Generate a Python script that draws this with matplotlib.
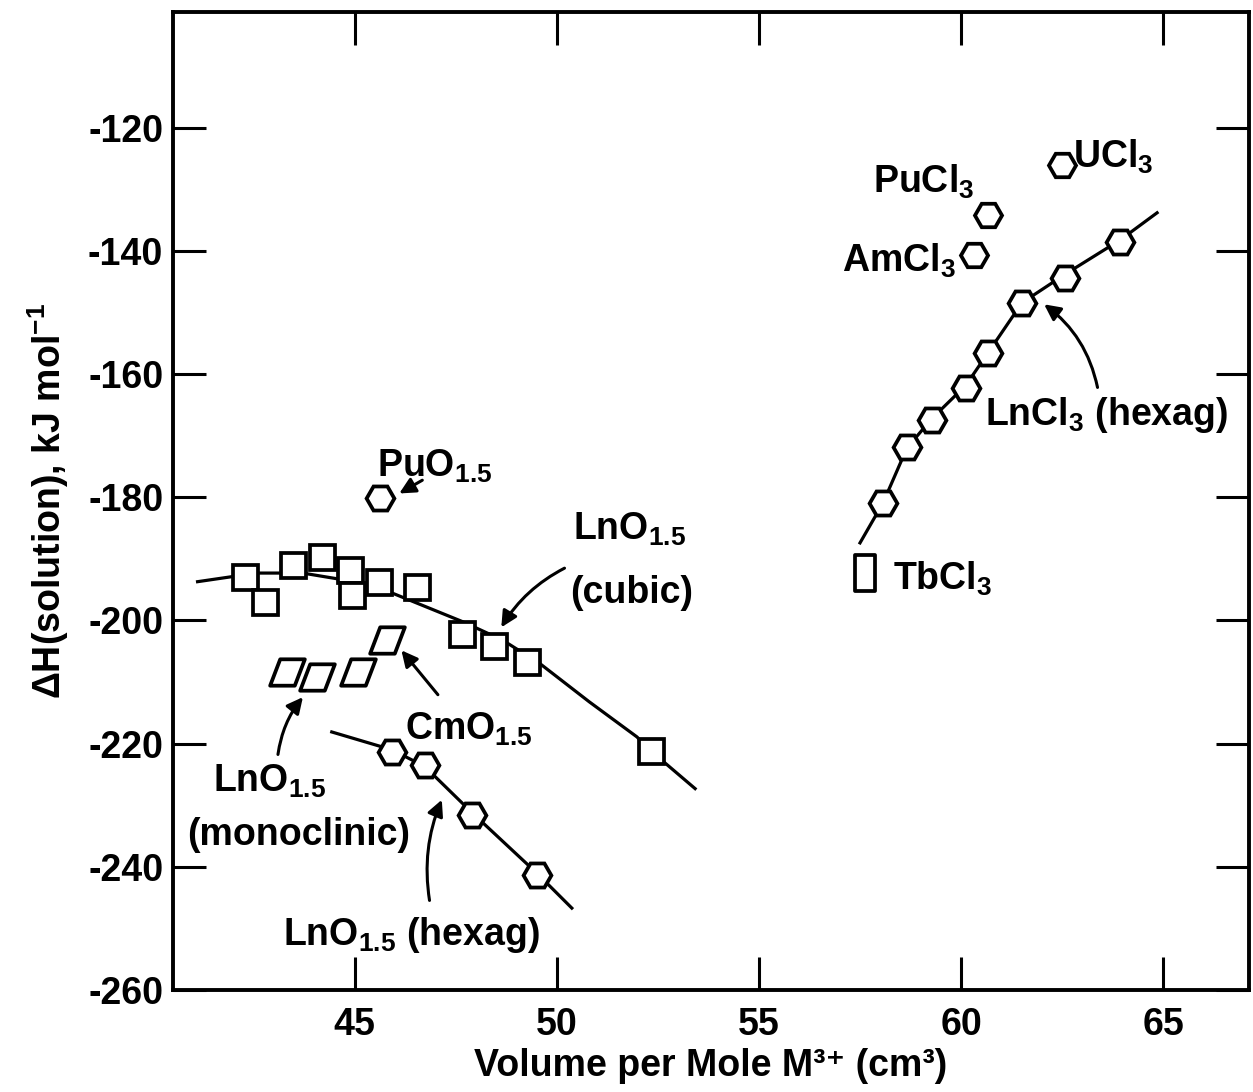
import matplotlib
matplotlib.use('Agg')
import matplotlib.pyplot as plt
from matplotlib.path import Path

plt.rcParams['font.family'] = ['Liberation Sans', 'DejaVu Sans']
plt.rcParams['font.weight'] = 'bold'
plt.rcParams['axes.labelweight'] = 'bold'
plt.rcParams['mathtext.fontset'] = 'custom'
plt.rcParams['mathtext.rm'] = 'Liberation Sans:bold'
plt.rcParams['mathtext.it'] = 'Liberation Sans:bold'
plt.rcParams['mathtext.bf'] = 'Liberation Sans:bold'

# LnO1.5 cubic (squares)
cubic_x = [42.28, 42.77, 43.47, 44.18, 44.88, 44.93, 45.59, 46.53, 47.65, 48.44, 49.26, 52.33]
cubic_y = [-192.9, -197.0, -191.0, -189.7, -191.8, -195.8, -193.7, -194.5, -202.2, -204.1, -206.7, -221.2]
cubic_fit_x = [41.11, 42.57, 43.71, 44.63, 45.87, 47.67, 48.66, 49.58, 50.80, 51.98, 52.33, 53.42]
cubic_fit_y = [-193.7, -192.3, -192.3, -193.3, -195.4, -200.2, -203.2, -207.0, -213.2, -218.9, -221.2, -227.3]

# monoclinic (parallelograms), last one is CmO1.5
mono_x = [43.32, 44.06, 45.07, 45.79]
mono_y = [-208.4, -209.2, -208.4, -203.2]

# LnO1.5 hexagonal
hexo_x = [45.92, 46.73, 47.90, 49.50]
hexo_y = [-221.3, -223.5, -231.6, -241.3]
hexo_fit_x = [44.43, 45.92, 46.73, 47.90, 49.50, 50.37]
hexo_fit_y = [-218.1, -221.0, -223.7, -231.2, -241.0, -246.7]

# PuO1.5
puo_x = [45.62]
puo_y = [-180.1]

# LnCl3 hexagonal
lncl_x = [58.07, 58.66, 59.28, 60.12, 60.67, 61.51, 62.57, 63.94]
lncl_y = [-180.9, -171.8, -167.4, -162.2, -156.5, -148.4, -144.4, -138.5]
lncl_fit_x = [57.50, 58.07, 58.66, 59.28, 60.12, 60.67, 61.51, 62.57, 63.94, 64.85]
lncl_fit_y = [-187.4, -180.9, -172.0, -167.2, -161.8, -156.5, -148.4, -143.8, -138.2, -133.8]

# actinide chlorides: UCl3, PuCl3, AmCl3
ancl_x = [62.50, 60.67, 60.32]
ancl_y = [-126.0, -134.1, -140.6]

# TbCl3
tb_x = [57.62]
tb_y = [-192.3]

para = Path([(-0.5, -0.38), (0.21, -0.38), (0.5, 0.38), (-0.21, 0.38), (-0.5, -0.38)],
            [Path.MOVETO, Path.LINETO, Path.LINETO, Path.LINETO, Path.CLOSEPOLY])
tall = Path([(-0.27, -0.5), (0.27, -0.5), (0.27, 0.5), (-0.27, 0.5), (-0.27, -0.5)],
            [Path.MOVETO, Path.LINETO, Path.LINETO, Path.LINETO, Path.CLOSEPOLY])

fig = plt.figure(figsize=(12.53, 10.92), dpi=100)
ax = fig.add_axes([0.138, 0.0934, 0.859, 0.8956])

lw = 2.3
mk = dict(linestyle='none', markerfacecolor='white', markeredgecolor='black',
          markeredgewidth=2.7, zorder=3)

ax.plot(cubic_fit_x, cubic_fit_y, color='black', lw=lw)
ax.plot(hexo_fit_x, hexo_fit_y, color='black', lw=lw)
ax.plot(lncl_fit_x, lncl_fit_y, color='black', lw=lw)

ax.plot(cubic_x, cubic_y, marker='s', markersize=18, **mk)
ax.plot(mono_x, mono_y, marker=para, markersize=25, **mk)
ax.plot(hexo_x, hexo_y, marker='H', markersize=20, **mk)
ax.plot(puo_x, puo_y, marker='H', markersize=20, **mk)
ax.plot(lncl_x, lncl_y, marker='H', markersize=20, **mk)
ax.plot(ancl_x, ancl_y, marker='H', markersize=19.5, **mk)
ax.plot(tb_x, tb_y, marker=tall, markersize=26, **mk)

fs = 27
tk = dict(fontsize=fs, ha='left', va='baseline')
ax.text(45.54, -176.7, r'PuO$_{1.5}$', **tk)
ax.text(50.40, -186.9, r'LnO$_{1.5}$', **tk)
ax.text(50.32, -197.1, '(cubic)', **tk)
ax.text(46.24, -219.4, r'CmO$_{1.5}$', **tk)
ax.text(41.49, -227.8, r'LnO$_{1.5}$', **tk)
ax.text(40.84, -236.5, '(monoclinic)', **tk)
ax.text(43.22, -252.7, r'LnO$_{1.5}$ (hexag)', **tk)
ax.text(60.59, -168.2, r'LnCl$_3$ (hexag)', **tk)
ax.text(57.82, -130.6, r'PuCl$_3$', **tk)
ax.text(57.05, -143.4, r'AmCl$_3$', **tk)
ax.text(62.77, -126.5, r'UCl$_3$', **tk)
ax.text(58.32, -195.0, r'TbCl$_3$', **tk)

def arrow(tail, head, rad):
    ax.annotate('', xy=head, xytext=tail,
                arrowprops=dict(arrowstyle='-|>', color='black', lw=2.2,
                                mutation_scale=24,
                                connectionstyle='arc3,rad=%s' % rad))

arrow((46.73, -177.0), (46.04, -179.6), 0.0)
arrow((50.25, -191.3), (48.59, -201.5), 0.15)
arrow((47.10, -212.4), (46.11, -204.5), 0.0)
arrow((43.09, -222.2), (43.76, -212.1), -0.15)
arrow((46.86, -245.9), (47.18, -228.7), -0.15)
arrow((63.39, -162.6), (62.00, -148.4), 0.2)

ax.set_xlim(40.5, 67.13)
ax.set_ylim(-260, -101.2)
ax.set_xticks([45, 50, 55, 60, 65])
ax.set_yticks([-120, -140, -160, -180, -200, -220, -240, -260])
ax.set_yticklabels(['-120', '-140', '-160', '-180', '-200', '-220', '-240', '-260'])
ax.tick_params(direction='in', length=24, width=2.2, labelsize=fs,
               top=True, right=True)
ax.tick_params(axis='x', pad=12)
ax.tick_params(axis='y', pad=7)
for s in ax.spines.values():
    s.set_linewidth(2.8)

ax.set_xlabel('Volume per Mole M\u00b3\u207a (cm\u00b3)', fontsize=fs, labelpad=4)
ax.set_ylabel(r'$\Delta$H(solution), kJ mol$^{-1}$', fontsize=fs, labelpad=12)

fig.savefig('out.png', dpi=100)
